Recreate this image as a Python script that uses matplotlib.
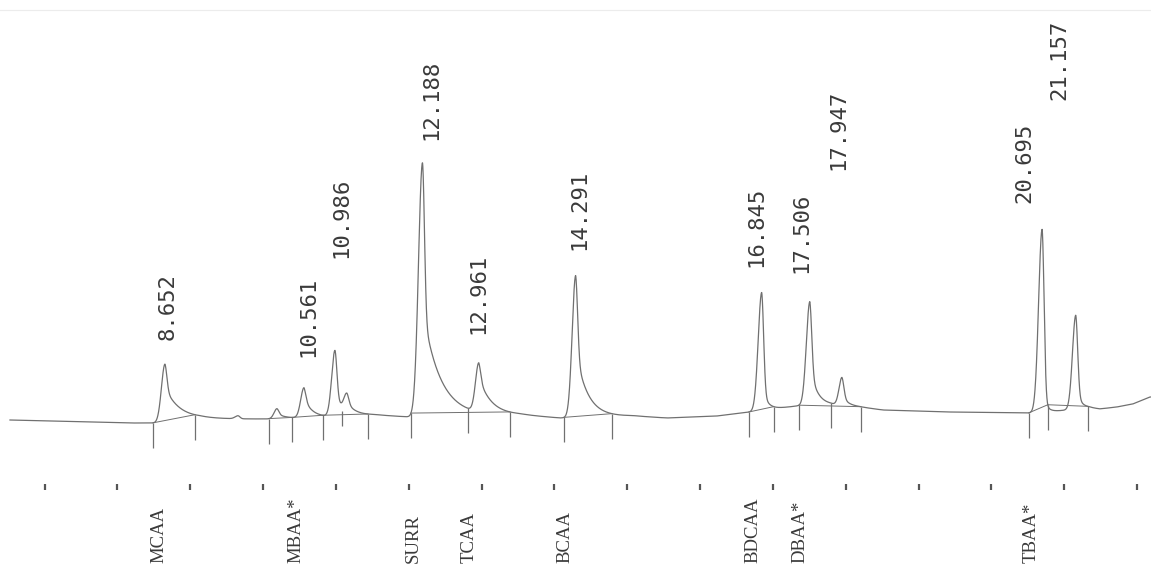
import numpy as np
import matplotlib.pyplot as plt

# peak table (retention time in min, height in detector counts above baseline)
peak_rt = [8.652, 9.654, 10.19, 10.561, 10.986, 11.15, 12.188, 12.961, 14.291,
           16.845, 17.506, 17.947, 20.695, 21.157]
peak_height = [58, 3, 10, 30, 66, 17, 254, 49, 142, 118, 104, 28, 183, 94]
peak_rise = [0.048, 0.04, 0.04, 0.045, 0.045, 0.04, 0.055, 0.045, 0.048,
             0.048, 0.048, 0.04, 0.048, 0.045]
peak_tail_amp = [35, 0, 5, 20, 20, 8, 110, 35, 68, 25, 40, 10, 20, 20]
peak_tail_tau = [0.206, 0.05, 0.11, 0.11, 0.137, 0.11, 0.233, 0.165, 0.158,
                 0.069, 0.096, 0.082, 0.055, 0.069]

# drifting baseline (time, level)
base_t = [6.524, 8.171, 8.515, 9.132, 10.025, 10.505, 10.917, 11.535, 12.015,
          13.525, 14.074, 15.076, 15.543, 16.229, 16.682, 16.998, 17.327, 17.780,
          18.192, 18.508, 19.427, 20.512, 20.801, 21.033, 21.349, 21.487, 21.720,
          21.939, 22.173]
base_y = [0, -3, -3, 1, 1, 2, 3, 5, 3, 5, 2, 4, 2, 4, 8, 11, 14, 15, 13, 10, 8,
          7, 8, 10, 12, 11, 13, 16, 23]

# retention times printed above the peaks
labeled_rt = [8.652, 10.561, 10.986, 12.188, 12.961, 14.291, 16.845, 17.506,
              17.947, 20.695, 21.157]

# integrator event marks and the baselines it drew between them
event_t = [8.487, 9.064, 10.080, 10.395, 10.821, 11.438, 12.029, 12.811, 13.388,
           14.129, 14.788, 16.668, 17.011, 17.355, 17.794, 18.206, 20.512, 20.773,
           21.322]
split_t = [11.082]
integ_from = [8.487, 10.080, 10.395, 10.821, 12.029, 14.129, 16.668, 17.355,
              20.512, 20.773]
integ_to = [9.064, 10.395, 10.821, 11.438, 13.388, 14.788, 17.011, 18.206,
            20.773, 21.322]

# compound names at their expected retention times
compounds = ['MCAA', 'MBAA*', 'SURR', 'TCAA', 'BCAA', 'BDCAA', 'DBAA*', 'TBAA*']
compound_rt = [8.563, 10.450, 12.056, 12.825, 14.143, 16.723, 17.368, 20.539]

minute_ticks = list(range(7, 23))

# layout of the printed numbers (bottom of text, sideways nudge in px)
label_bottom = [80, 63, 162, 280, 86, 170, 153, 147, 250, 217, 320]
label_dx_px = [3, 4, 6, 9, 0, 4, -5, -8, -4, -18, -16]

PX = 1 / 72.85  # minutes per pixel on the scan
INK = '#707070'
TXT = '#3a3a3a'


def peak(t, rt, h, sl, a, tau, sr=0.027):
    d = t - rt
    left = h * np.exp(-0.5 * (d / sl) ** 2)
    right = (h - a) * np.exp(-0.5 * (d / sr) ** 2) + a * np.exp(-np.clip(d, 0, None) / tau)
    return np.where(d < 0, left, right)


t = np.linspace(6.524, 22.19, 9000)
trace = np.interp(t, base_t, base_y)
for rt, h, sl, a, tau in zip(peak_rt, peak_height, peak_rise, peak_tail_amp, peak_tail_tau):
    trace = trace + peak(t, rt, h, sl, a, tau)

fig = plt.figure(figsize=(11.51, 5.75), dpi=100)
ax = fig.add_axes([0, 0, 1, 1])
ax.set_xlim(6.387, 22.19)
ax.set_ylim(-155, 420)
ax.axis('off')

# edge of the paper
ax.axhline(410, color='#ececec', lw=0.8)

ax.plot(t, trace, color=INK, lw=0.9)

# integration baselines
for a, b in zip(integ_from, integ_to):
    ax.plot([a, b], [np.interp(a, t, trace), np.interp(b, t, trace)], color=INK, lw=0.7)

# event marks
for e in event_t:
    y0 = np.interp(e, t, trace)
    ax.vlines(e, y0 - 25, y0, color=INK, lw=0.9)
for e in split_t:
    y0 = np.interp(e, t, trace)
    ax.vlines(e, y0 - 24, y0 - 9, color=INK, lw=0.9)

# retention time labels
for rt, yb, dx in zip(labeled_rt, label_bottom, label_dx_px):
    ax.text(rt + dx * PX, yb, f'{rt:.3f}', rotation=90, ha='center', va='bottom',
            family='DejaVu Sans Mono', fontsize=16, color=TXT)

# minute ticks of the time axis
ax.vlines(minute_ticks, -70, -64, color='#555555', lw=1.6)

# compound names
for name, rt in zip(compounds, compound_rt):
    ax.text(rt, -143, name, rotation=90, ha='center', va='bottom',
            family='Liberation Serif', fontsize=13.5, color=TXT)

fig.savefig('out.png', dpi=100, facecolor='white')
